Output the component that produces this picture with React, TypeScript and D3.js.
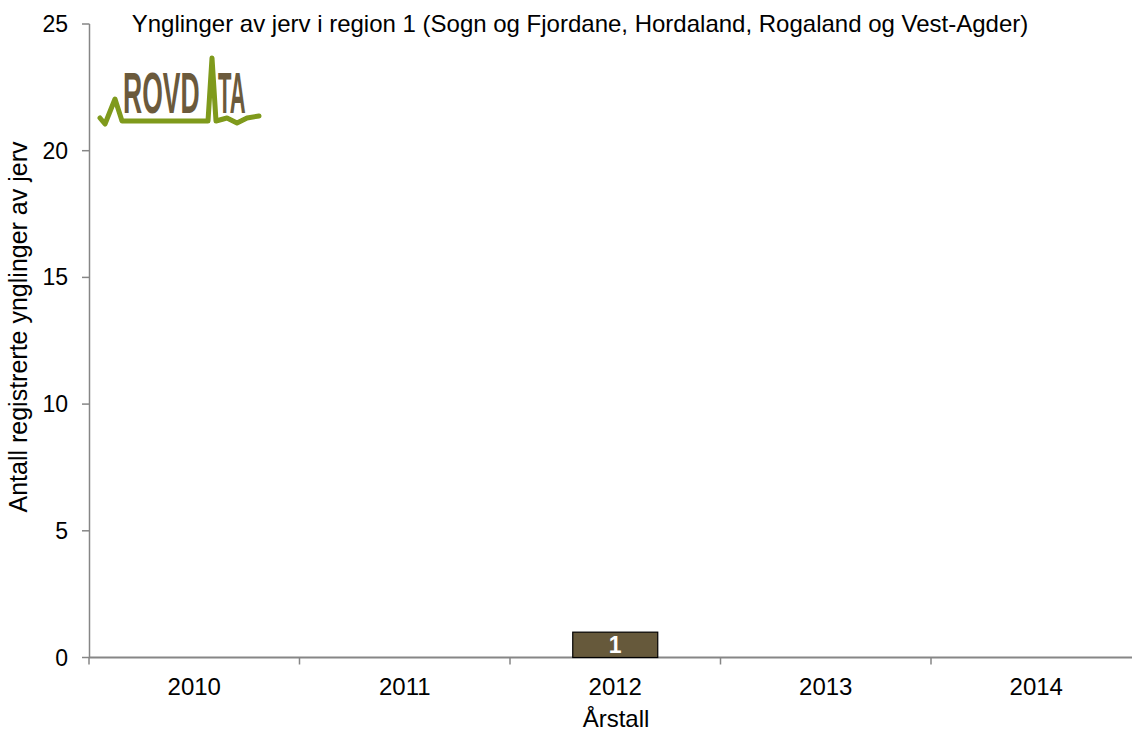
import React from "react";
import * as d3 from "d3";

const categories = ["2010", "2011", "2012", "2013", "2014"];
const values = [0, 0, 1, 0, 0];
const yTicks = [0, 5, 10, 15, 20, 25];
const title = "Ynglinger av jerv i region 1 (Sogn og Fjordane, Hordaland, Rogaland og Vest-Agder)";
const yLabel = "Antall registrerte ynglinger av jerv";
const xLabel = "Årstall";

export default function App() {
  const W = 1132, H = 731;
  const x = d3.scaleBand().domain(categories).range([89, 1141.5]).paddingInner(0).paddingOuter(0);
  const y = d3.scaleLinear().domain([0, 25]).range([657.5, 24]);
  const font = "'Liberation Sans', Arial, sans-serif";
  const barW = 85;
  const bounds = [...categories.map((c) => x(c)!), x.range()[1]];
  const logoLine: [number, number][] = [
    [100, 118], [105, 124], [115, 99], [122, 121], [208, 121], [212, 58], [216, 121],
    [227, 118], [237, 123], [247, 118], [259, 116],
  ];
  return (
    <svg width={W} height={H} style={{ position: "absolute", left: 0, top: 0, background: "#fff" }} fontFamily={font}>
      <rect width={W} height={H} fill="#fff" />
      {/* logo */}
      <g>
        <text transform="translate(123,113) scale(1,2.15)" fontSize={26.5} fontWeight="bold" fill="#6b5a3c">ROVD</text>
        <text transform="translate(218,113) scale(1,2.6)" fontSize={22} fontWeight="bold" fill="#6b5a3c">TA</text>
        <path d={d3.line()(logoLine)!} fill="none" stroke="#7f9a1c" strokeWidth={5} strokeLinejoin="round" strokeLinecap="round" />
      </g>
      {/* y axis */}
      <line x1={89.5} x2={89.5} y1={y(25)} y2={y(0)} stroke="#868686" strokeWidth={1.5} />
      {yTicks.map((t) => (
        <g key={t}>
          <line x1={82} x2={89.5} y1={y(t)} y2={y(t)} stroke="#868686" strokeWidth={1.5} />
          <text x={68} y={y(t)} dy="0.35em" textAnchor="end" fontSize={23} fill="#000">{t}</text>
        </g>
      ))}
      {/* x axis */}
      <line x1={89} x2={W} y1={y(0)} y2={y(0)} stroke="#868686" strokeWidth={2} />
      {bounds.map((b, i) => (
        <line key={i} x1={b} x2={b} y1={y(0)} y2={y(0) + 7} stroke="#868686" strokeWidth={1.5} />
      ))}
      {categories.map((c) => (
        <text key={c} x={x(c)! + x.bandwidth() / 2} y={695} textAnchor="middle" fontSize={24} fill="#000">{c}</text>
      ))}
      {/* bars */}
      {categories.map((c, i) =>
        values[i] > 0 ? (
          <g key={c}>
            <rect x={x(c)! + x.bandwidth() / 2 - barW / 2} y={y(values[i])} width={barW} height={y(0) - y(values[i])} fill="#66593b" stroke="#000" strokeWidth={1.2} />
            <text x={x(c)! + x.bandwidth() / 2} y={(y(values[i]) + y(0)) / 2} dy="0.36em" textAnchor="middle" fontSize={23} fontWeight="bold" fill="#fff">{values[i]}</text>
          </g>
        ) : null
      )}
      <text x={580} y={32} textAnchor="middle" fontSize={24} fill="#000">{title}</text>
      <text x={616} y={727} textAnchor="middle" fontSize={24} fill="#000">{xLabel}</text>
      <text transform={`translate(27,327) rotate(-90)`} textAnchor="middle" fontSize={25} fill="#000">{yLabel}</text>
    </svg>
  );
}
